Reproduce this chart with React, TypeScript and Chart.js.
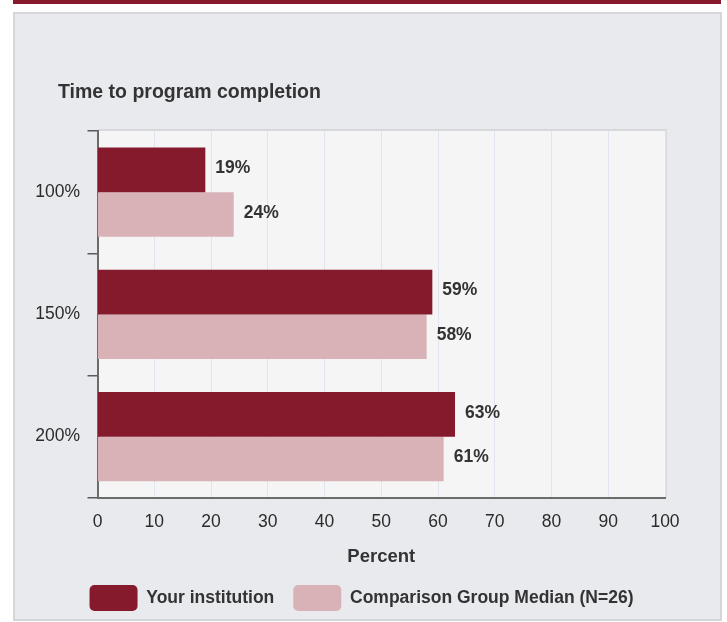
import { useEffect, useRef } from "react";
import { Chart, registerables } from "chart.js";

Chart.register(...registerables);

const chartTitle = "Time to program completion";
const categories = ["100%", "150%", "200%"];
const seriesNames = ["Your institution", "Comparison Group Median (N=26)"];
const yourInstitution = [19, 59, 63];
const comparisonMedian = [24, 58, 61];
const xAxisTitle = "Percent";
const xMin = 0;
const xMax = 100;
const xStep = 10;

const DARK = "#841a2b";
const PINK = "#d8b2b7";
const FONT = "'Liberation Sans', Arial, Helvetica, sans-serif";

const plotBackground = {
  id: "plotBackground",
  beforeDraw(chart: any) {
    const { ctx, chartArea: a } = chart;
    ctx.save();
    ctx.fillStyle = "#f5f5f6";
    ctx.fillRect(a.left, a.top, a.right - a.left, a.bottom - a.top);
    ctx.strokeStyle = "#d8d9dc";
    ctx.lineWidth = 2;
    ctx.beginPath();
    ctx.moveTo(a.left, a.top - 1);
    ctx.lineTo(a.right + 1, a.top - 1);
    ctx.lineTo(a.right + 1, a.bottom);
    ctx.stroke();
    ctx.restore();
  },
};

const valueLabels = {
  id: "valueLabels",
  afterDatasetsDraw(chart: any) {
    const { ctx } = chart;
    ctx.save();
    ctx.font = `bold 17.5px ${FONT}`;
    ctx.fillStyle = "#333333";
    ctx.textAlign = "left";
    ctx.textBaseline = "middle";
    chart.data.datasets.forEach((ds: any, di: number) => {
      const meta = chart.getDatasetMeta(di);
      meta.data.forEach((bar: any, i: number) => {
        ctx.fillText(`${ds.data[i]}%`, bar.x + 10, bar.y - 1.5);
      });
    });
    ctx.restore();
  },
};

export default function App() {
  const ref = useRef<HTMLCanvasElement | null>(null);

  useEffect(() => {
    if (!ref.current) return;
    Chart.defaults.font.family = FONT;
    const chart = new Chart(ref.current, {
      type: "bar",
      data: {
        labels: categories,
        datasets: [
          {
            label: seriesNames[0],
            data: yourInstitution,
            backgroundColor: DARK,
            borderWidth: 0,
            categoryPercentage: 0.73,
            barPercentage: 1.0,
          },
          {
            label: seriesNames[1],
            data: comparisonMedian,
            backgroundColor: PINK,
            borderWidth: 0,
            categoryPercentage: 0.73,
            barPercentage: 1.0,
          },
        ],
      },
      options: {
        indexAxis: "y",
        animation: false,
        responsive: false,
        maintainAspectRatio: false,
        layout: { padding: { left: 58, right: 62, top: 0, bottom: 1 } },
        plugins: {
          title: {
            display: true,
            text: chartTitle,
            align: "start",
            color: "#333333",
            font: { size: 19.5, weight: "bold" },
            padding: { top: 81, bottom: 26.6 },
          },
          legend: {
            position: "bottom",
            labels: {
              boxWidth: 48,
              boxHeight: 26,
              useBorderRadius: true,
              borderRadius: 5,
              padding: 19,
              color: "#333333",
              font: { size: 17.5, weight: "bold" },
            },
          },
          tooltip: { enabled: false },
        },
        scales: {
          x: {
            min: xMin,
            max: xMax,
            ticks: {
              stepSize: xStep,
              padding: 13.5,
              color: "#2b2b2b",
              font: { size: 17.5 },
            },
            grid: { color: "#dfe4ee", drawTicks: false, lineWidth: 1 },
            border: { color: "#6b6b6b", width: 2 },
            title: {
              display: true,
              text: xAxisTitle,
              color: "#333333",
              font: { size: 18.5, weight: "bold" },
              padding: { top: 0, bottom: -2 },
            },
          },
          y: {
            ticks: { padding: 7.5, color: "#2b2b2b", font: { size: 17.5 } },
            grid: {
              drawOnChartArea: false,
              drawTicks: true,
              tickLength: 10,
              color: "#5a5a5a",
              lineWidth: 1.5,
            },
            border: { color: "#6b6b6b", width: 2 },
            afterFit: (s: any) => {
              s.width = 39.5;
              // let the category labels extend to the left of the narrow axis box
              s._computeLabelArea = () => undefined;
            },
          },
        },
      } as any,
      plugins: [plotBackground, valueLabels],
    });
    return () => chart.destroy();
  }, []);

  return (
    <div style={{ position: "absolute", left: 0, top: 0, width: 727, height: 622, overflow: "hidden", background: "#ffffff" }}>
      <div style={{ position: "absolute", left: 13, top: 0, width: 708, height: 4, background: "#861a2c" }} />
      <div
        style={{
          position: "absolute",
          left: 13,
          top: 12,
          width: 705,
          height: 605,
          background: "#e9eaee",
          border: "2px solid #d5d6d8",
        }}
      />
      <canvas ref={ref} width={727} height={622} style={{ position: "absolute", left: 0, top: 0, width: 727, height: 622 }} />
    </div>
  );
}
